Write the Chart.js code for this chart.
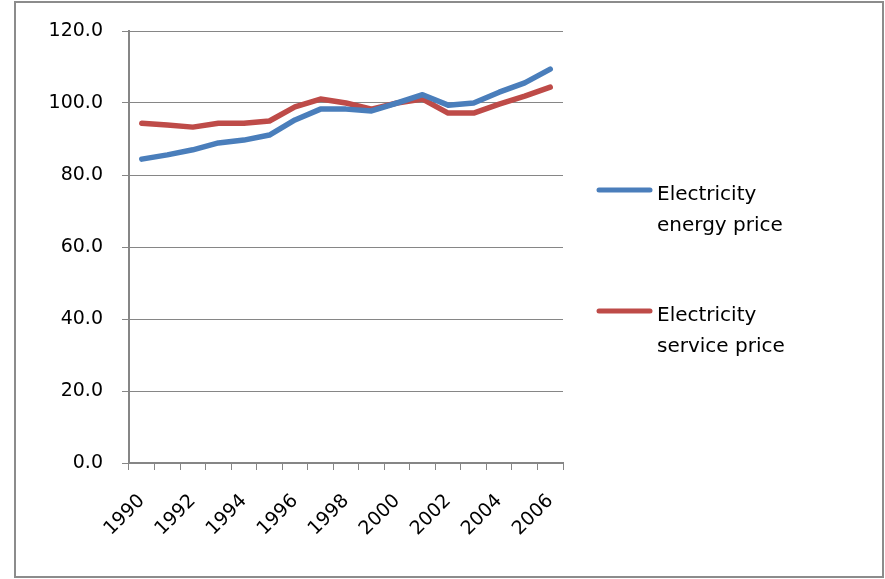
<!DOCTYPE html>
<html lang="en">
<head>
    <meta charset="UTF-8">
    <title>Electricity prices</title>
    <script src="https://cdn.jsdelivr.net/npm/chart.js"></script>
    <style>
        html, body { margin: 0; padding: 0; background: #ffffff; }
        #wrap { width: 885px; height: 579px; }
    </style>
</head>
<body>
    <div id="wrap"><canvas id="chart" width="885" height="579"></canvas></div>

    <script>
        // data
        const years = ['1990', '1991', '1992', '1993', '1994', '1995', '1996', '1997', '1998',
                       '1999', '2000', '2001', '2002', '2003', '2004', '2005', '2006'];
        const energyPrice = [84.4, 85.6, 87.0, 88.9, 89.7, 91.1, 95.3, 98.3, 98.3,
                             97.8, 100.0, 102.3, 99.4, 100.0, 103.0, 105.6, 109.4];
        const servicePrice = [94.4, 93.9, 93.3, 94.4, 94.4, 95.0, 98.9, 101.1, 100.0,
                              98.3, 100.0, 101.1, 97.2, 97.2, 99.7, 101.9, 104.4];
        const legendLines = [['Electricity', 'energy price'], ['Electricity', 'service price']];
        const yTicks = [0, 20, 40, 60, 80, 100, 120];

        const axisGray = '#868686';
        const fontFamily = '"DejaVu Sans", sans-serif';

        // border round the whole picture + two-line legend on the right
        const framePlugin = {
            id: 'frame',
            beforeDraw(chart) {
                const ctx = chart.ctx;
                ctx.save();
                ctx.strokeStyle = '#8c8c8c';
                ctx.lineWidth = 2;
                ctx.strokeRect(15, 2, 868, 575);
                ctx.restore();
            },
            afterDraw(chart) {
                const ctx = chart.ctx;
                ctx.save();
                ctx.font = '20px ' + fontFamily;
                ctx.fillStyle = '#000000';
                ctx.textBaseline = 'alphabetic';
                chart.data.datasets.forEach((ds, i) => {
                    const top = 190 + i * 121;
                    ctx.strokeStyle = ds.borderColor;
                    ctx.lineWidth = 5;
                    ctx.lineCap = 'round';
                    ctx.beginPath();
                    ctx.moveTo(599, top);
                    ctx.lineTo(650, top);
                    ctx.stroke();
                    legendLines[i].forEach((t, j) => {
                        ctx.fillText(t, 657, top + 10 + j * 31);
                    });
                });
                ctx.restore();
            }
        };

        new Chart(document.getElementById('chart'), {
            type: 'line',
            data: {
                labels: years,
                datasets: [{
                    label: legendLines[0].join(' '),
                    data: energyPrice,
                    borderColor: '#4A7EBB',
                    borderWidth: 5.5,
                    pointRadius: 0,
                    tension: 0,
                    borderJoinStyle: 'round',
                    borderCapStyle: 'round',
                    fill: false
                }, {
                    label: legendLines[1].join(' '),
                    data: servicePrice,
                    borderColor: '#BE4B48',
                    borderWidth: 5.5,
                    pointRadius: 0,
                    tension: 0,
                    borderJoinStyle: 'round',
                    borderCapStyle: 'round',
                    fill: false
                }]
            },
            options: {
                responsive: false,
                animation: false,
                layout: { padding: { top: 31, right: 322, left: 0, bottom: 0 } },
                plugins: { legend: { display: false }, tooltip: { enabled: false } },
                scales: {
                    x: {
                        offset: true,
                        afterFit(scale) { scale.height = 116; },
                        grid: { offset: true, drawOnChartArea: false, drawTicks: true, tickLength: 7, color: axisGray, lineWidth: 1 },
                        border: { color: axisGray, width: 2 },
                        ticks: {
                            autoSkip: false,
                            maxRotation: 45,
                            minRotation: 45,
                            padding: 20,
                            color: '#000000',
                            font: { family: fontFamily, size: 19 },
                            callback(value, index) { return index % 2 === 0 ? years[index] : ''; }
                        }
                    },
                    y: {
                        min: 0,
                        max: 120,
                        afterFit(scale) { scale.width = 129; },
                        afterBuildTicks(scale) { scale.ticks = yTicks.map(v => ({ value: v })); },
                        grid: { color: axisGray, lineWidth: 1, tickLength: 7 },
                        border: { color: axisGray, width: 2 },
                        ticks: {
                            padding: 19,
                            color: '#000000',
                            font: { family: fontFamily, size: 19 },
                            callback(value) { return Number(value).toFixed(1); }
                        }
                    }
                }
            },
            plugins: [framePlugin]
        });
    </script>
</body>
</html>
